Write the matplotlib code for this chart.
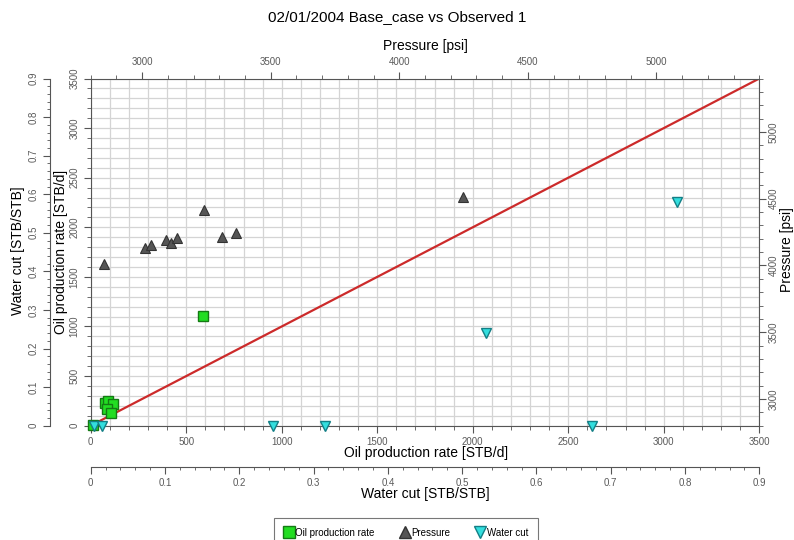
import matplotlib.pyplot as plt
from matplotlib.lines import Line2D
from matplotlib.ticker import MultipleLocator, FuncFormatter

plt.rcParams['font.family'] = ['Liberation Sans', 'DejaVu Sans']

# observed (x) vs simulated (y)
oil_obs = [10, 75, 92, 118, 87, 106, 590]
oil_sim = [5, 226, 252, 219, 165, 125, 1110]

pres_obs = [2853, 3011, 3033, 3093, 3111, 3134, 3241, 3309, 3364, 4247]
pres_sim = [4010, 4128, 4153, 4190, 4166, 4203, 4415, 4215, 4245, 4515]

wc_obs = [0.005, 0.015, 0.246, 0.316, 0.532, 0.675, 0.789]
wc_sim = [0.0, 0.0, 0.0, 0.0, 0.2395, 0.0, 0.581]

oil_lim = (0, 3500)
pres_lim = (2800, 5400)
wc_lim = (0, 0.9)

tick_col = '#555555'
lab_col = '#5a5a5a'
tick_fs = 7

fig = plt.figure(figsize=(7.94, 5.4), dpi=100)
rect = [0.1142, 0.2117, 0.8421, 0.6429]
ax = fig.add_axes(rect)
axw = fig.add_axes(rect)
axp = fig.add_axes(rect)
for a in (axw, axp):
    a.patch.set_visible(False)

# main oil-rate axes
ax.set_xlim(oil_lim)
ax.set_ylim(oil_lim)
ax.xaxis.set_major_locator(MultipleLocator(500))
ax.yaxis.set_major_locator(MultipleLocator(500))
ax.xaxis.set_minor_locator(MultipleLocator(100))
ax.yaxis.set_minor_locator(MultipleLocator(100))
ax.grid(True, which='both', color='#d4d4d4', lw=0.9)
ax.set_axisbelow(True)
for s in ax.spines.values():
    s.set_color(tick_col)
ax.tick_params(which='both', colors=tick_col, labelcolor=lab_col, labelsize=tick_fs, direction='out')
ax.tick_params(which='major', length=5)
ax.tick_params(which='minor', length=3)
ax.tick_params(axis='y', labelrotation=90, pad=3)
for t in ax.get_yticklabels():
    t.set_va('center')
ax.plot(oil_lim, oil_lim, color='#cc2a2a', lw=1.6, zorder=2)
ax.plot(oil_obs, oil_sim, 's', ms=7, mfc='#22dd22', mec='#147a14', mew=1.0, zorder=4, clip_on=False)

# water cut axes (offset outward)
axw.set_xlim(wc_lim)
axw.set_ylim(wc_lim)
axw.xaxis.set_major_locator(MultipleLocator(0.1))
axw.yaxis.set_major_locator(MultipleLocator(0.1))
axw.xaxis.set_minor_locator(MultipleLocator(0.02))
axw.yaxis.set_minor_locator(MultipleLocator(0.02))
fmt = FuncFormatter(lambda v, p: f"{v:.1f}".rstrip('0').rstrip('.') if v else "0")
axw.xaxis.set_major_formatter(fmt)
axw.yaxis.set_major_formatter(fmt)
axw.spines['top'].set_visible(False)
axw.spines['right'].set_visible(False)
axw.spines['bottom'].set_position(('outward', 29.5))
axw.spines['left'].set_position(('outward', 29.3))
axw.spines['bottom'].set_color(tick_col)
axw.spines['left'].set_color(tick_col)
axw.tick_params(which='both', colors=tick_col, labelcolor=lab_col, labelsize=tick_fs, direction='out')
axw.tick_params(which='major', length=5)
axw.tick_params(which='minor', length=2.5)
axw.tick_params(axis='y', labelrotation=90, pad=3)
for t in axw.get_yticklabels():
    t.set_va('center')
axw.plot(wc_obs, wc_sim, 'v', ms=7, mfc='#33dede', mec='#137f86', mew=1.0, zorder=4, clip_on=False)

# pressure axes (top / right)
axp.set_xlim(pres_lim)
axp.set_ylim(pres_lim)
axp.xaxis.set_major_locator(MultipleLocator(500))
axp.yaxis.set_major_locator(MultipleLocator(500))
axp.xaxis.set_minor_locator(MultipleLocator(100))
axp.yaxis.set_minor_locator(MultipleLocator(100))
axp.xaxis.tick_top()
axp.yaxis.tick_right()
for s in axp.spines.values():
    s.set_visible(False)
axp.tick_params(which='both', colors=tick_col, labelcolor=lab_col, labelsize=tick_fs, direction='out')
axp.tick_params(which='major', length=5)
axp.tick_params(which='minor', length=3)
axp.tick_params(axis='x', pad=3)
axp.tick_params(axis='y', labelrotation=90, pad=2)
for t in axp.get_yticklabels():
    t.set_va('center')
axp.plot(pres_obs, pres_sim, '^', ms=7, mfc='#555555', mec='#333333', mew=0.8, zorder=4, clip_on=False)

# titles and axis labels
fig.text(0.5, 0.968, '02/01/2004 Base_case vs Observed 1', ha='center', va='center', fontsize=11)
fig.text(0.536, 0.9148, 'Pressure [psi]', ha='center', va='center', fontsize=10)
fig.text(0.536, 0.161, 'Oil production rate [STB/d]', ha='center', va='center', fontsize=10)
fig.text(0.536, 0.0852, 'Water cut [STB/STB]', ha='center', va='center', fontsize=10)
fig.text(0.0227, 0.535, 'Water cut [STB/STB]', ha='center', va='center', rotation=90, fontsize=10)
fig.text(0.0768, 0.533, 'Oil production rate [STB/d]', ha='center', va='center', rotation=90, fontsize=10)
fig.text(0.9912, 0.537, 'Pressure [psi]', ha='center', va='center', rotation=90, fontsize=10)

handles = [
    Line2D([], [], ls='', marker='s', ms=8, mfc='#22dd22', mec='#147a14'),
    Line2D([], [], ls='', marker='^', ms=8, mfc='#555555', mec='#333333'),
    Line2D([], [], ls='', marker='v', ms=8, mfc='#33dede', mec='#137f86'),
]
leg = fig.legend(handles, ['Oil production rate', 'Pressure', 'Water cut'],
                 loc='upper center', bbox_to_anchor=(0.5113, 0.0407), ncol=3,
                 fontsize=7, frameon=True, fancybox=False, edgecolor='#555555',
                 handlelength=1.0, handletextpad=0.15, columnspacing=2.6,
                 borderpad=1.0, borderaxespad=0)
leg.get_frame().set_linewidth(0.8)

fig.savefig('out.png', dpi=100)
